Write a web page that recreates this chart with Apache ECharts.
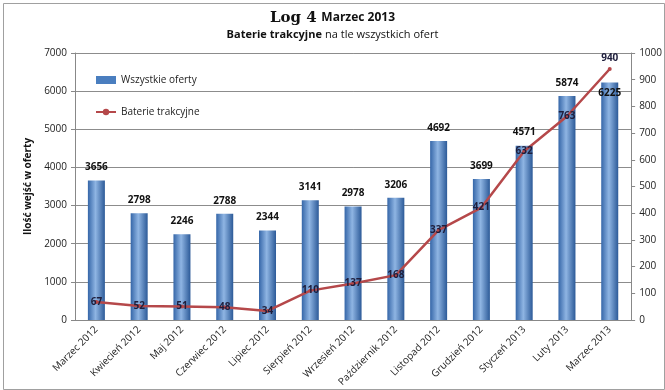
<!DOCTYPE html>
<html>
<head>
<meta charset="utf-8">
<script src="https://cdn.jsdelivr.net/npm/echarts@6/dist/echarts.min.js"></script>
<style>
  body { margin: 0; background: #fff; }
  #chart { width: 665px; height: 390px; }
</style>
</head>
<body>
<div id="chart"></div>
<script>
var months = ['Marzec 2012', 'Kwiecień 2012', 'Maj 2012', 'Czerwiec 2012', 'Lipiec 2012', 'Sierpień 2012',
  'Wrzesień 2012', 'Październik 2012', 'Listopad 2012', 'Grudzień 2012', 'Styczeń 2013', 'Luty 2013', 'Marzec 2013'];
var allOffers = [3656, 2798, 2246, 2788, 2344, 3141, 2978, 3206, 4692, 3699, 4571, 5874, 6225];
var batteries = [67, 52, 51, 48, 34, 110, 137, 168, 337, 421, 632, 763, 940];

function chart(){
	var chartDom = document.getElementById('chart');
	var myChart = echarts.init(chartDom);
	var option;

	var barFill = new echarts.graphic.LinearGradient(0, 0, 1, 0, [
	  { offset: 0, color: '#3566a8' },
	  { offset: 0.45, color: '#8fb5e3' },
	  { offset: 1, color: '#2c5a98' }
	]);

	var last = allOffers.length - 1;
	// last bar label sits inside the bar, last line label above the point
	var barData = allOffers.map(function (v, i) {
	  return i === last ? { value: v, label: { position: 'insideTop', distance: 6 } } : v;
	});
	var lineData = batteries.map(function (v, i) {
	  return i === last ? { value: v, label: { position: 'top', distance: 4 } } : v;
	});

	option = {
	  backgroundColor: '#fff',
	  textStyle: { fontFamily: 'Open Sans, DejaVu Sans, sans-serif' },
	  title: {
	    left: 'center',
	    top: 4,
	    itemGap: 2,
	    text: '{a|Log 4} {b|Marzec 2013}',
	    textStyle: {
	      rich: {
	        a: { fontFamily: 'DejaVu Serif, serif', fontWeight: 'bold', fontSize: 15, color: '#111' },
	        b: { fontFamily: 'Open Sans, sans-serif', fontWeight: 'bold', fontSize: 12, color: '#111' }
	      }
	    },
	    subtext: '{a|Baterie trakcyjne} {b|na tle wszystkich ofert}',
	    subtextStyle: {
	      rich: {
	        a: { fontWeight: 'bold', fontSize: 11, color: '#111' },
	        b: { fontSize: 11, color: '#111' }
	      }
	    }
	  },
	  graphic: [{
	    type: 'rect',
	    left: 1, top: 1,
	    shape: { width: 661, height: 386 },
	    style: { fill: 'none', stroke: '#a0a0a0', lineWidth: 1 }
	  }],
	  legend: {
	    orient: 'vertical',
	    left: 90,
	    top: 70,
	    itemGap: 22,
	    itemWidth: 20,
	    itemHeight: 8,
	    textStyle: { fontSize: 10, color: '#222' },
	    data: [
	      { name: 'Wszystkie oferty', icon: 'rect', itemStyle: { color: '#4a7ebf' } },
	      { name: 'Baterie trakcyjne' }
	    ]
	  },
	  grid: { left: 75, right: 32, top: 53, bottom: 70 },
	  xAxis: {
	    type: 'category',
	    data: months,
	    axisTick: { show: false },
	    axisLine: { lineStyle: { color: '#888' } },
	    axisLabel: { rotate: 45, fontSize: 10, color: '#222', interval: 0, margin: 8 }
	  },
	  yAxis: [{
	    type: 'value',
	    min: 0, max: 7000, interval: 1000,
	    name: 'Ilość wejść w oferty',
	    nameLocation: 'middle',
	    nameGap: 38,
	    nameTextStyle: { fontWeight: 'bold', fontSize: 10, color: '#111' },
	    axisLine: { show: true, lineStyle: { color: '#888' } },
	    axisTick: { show: true, length: 4, lineStyle: { color: '#888' } },
	    axisLabel: { fontSize: 10, color: '#222', formatter: function (v) { return String(v); } },
	    splitLine: { lineStyle: { color: '#8c8c8c' } }
	  }, {
	    type: 'value',
	    min: 0, max: 1000, interval: 100,
	    position: 'right',
	    axisLine: { show: true, lineStyle: { color: '#888' } },
	    axisTick: { show: true, length: 4, lineStyle: { color: '#888' } },
	    axisLabel: { fontSize: 10, color: '#222', formatter: function (v) { return String(v); } },
	    splitLine: { show: false }
	  }],
	  series: [{
	    name: 'Wszystkie oferty',
	    type: 'bar',
	    data: barData,
	    barWidth: 17,
	    itemStyle: { color: barFill },
	    label: { show: true, position: 'top', fontSize: 10, fontWeight: 'bold', color: '#111', distance: 8 }
	  }, {
	    name: 'Baterie trakcyjne',
	    type: 'line',
	    yAxisIndex: 1,
	    data: lineData,
	    symbol: 'circle',
	    symbolSize: 4,
	    lineStyle: { color: '#b5484a', width: 2.5 },
	    itemStyle: { color: '#b5484a' },
	    label: { show: true, position: 'inside', fontSize: 10, fontWeight: 'bold', color: '#1e1e3c' },
	    z: 3
	  }]
	};

	option && myChart.setOption(option);
}
chart();
</script>
</body>
</html>
